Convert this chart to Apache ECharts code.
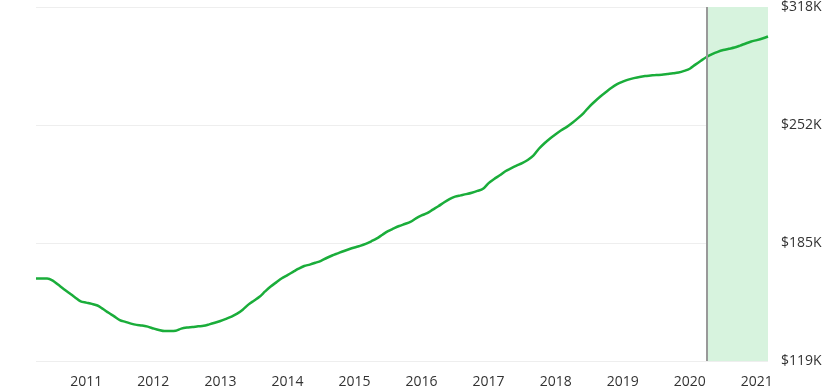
<!DOCTYPE html>
<html>
<head>
    <meta charset="utf-8">
    <title>Home value</title>
    <script src="https://cdn.jsdelivr.net/npm/echarts@6/dist/echarts.min.js"></script>
    <style>
        html, body { margin: 0; padding: 0; background: #fff; }
        #main { width: 835px; height: 392px; }
    </style>
</head>
<body>
<div id="main"></div>
<script>
    // monthly values, in thousands of dollars, Apr 2010 - Mar 2021
    var startYear = 2010, startMonth = 4;
    var values = [
        165.4, 165.4, 165.4, 164.2, 161.8, 159.4, 157.1, 154.7, 152.5,
        151.8, 151.1, 150.2, 148.2, 146.1, 144.1, 142.0, 141.0, 140.0, 139.3, 139.0, 138.3, 137.3,
        136.4, 135.8, 135.8, 136.0, 137.2, 137.8, 138.1, 138.5, 138.8, 139.6, 140.5, 141.5,
        142.7, 144.0, 145.6, 147.8, 150.7, 152.9, 155.1, 158.1, 160.9, 163.2, 165.5, 167.3,
        169.1, 170.9, 172.4, 173.2, 174.2, 175.3, 176.9, 178.3, 179.5, 180.7, 181.8, 182.8,
        183.7, 184.8, 186.3, 187.9, 190.0, 192.0, 193.5, 194.9, 196.0, 197.2, 199.2, 200.8,
        202.1, 204.1, 206.0, 208.1, 210.0, 211.4, 212.1, 212.8, 213.6, 214.6, 215.8, 219.0,
        221.3, 223.4, 225.7, 227.3, 228.8, 230.2, 232.0, 234.4, 238.3, 241.4, 244.1, 246.5,
        248.7, 250.6, 252.9, 255.5, 258.4, 261.9, 264.9, 267.7, 270.2, 272.6, 274.6, 276.0,
        277.2, 278.0, 278.7, 279.2, 279.5, 279.8, 279.9, 280.3, 280.7, 281.2, 282.1, 283.3,
        285.6, 287.8, 289.9, 291.5, 292.8, 293.8, 294.5, 295.2, 296.3, 297.5, 298.6, 299.4,
        300.3, 301.4
    ];
    var forecastStart = '2020-04';
    var yTicks = [119, 185, 252, 318];

    var months = [];
    for (var i = 0; i < values.length; i++) {
        var m = startMonth - 1 + i;
        var y = startYear + Math.floor(m / 12);
        var mm = (m % 12) + 1;
        months.push(y + '-' + (mm < 10 ? '0' + mm : mm));
    }

    var myChart = echarts.init(document.getElementById('main'));
    myChart.setOption({
        animation: false,
        grid: {left: 36, right: 67, top: 6, bottom: 31},
        xAxis: {
            type: 'category',
            data: months,
            boundaryGap: false,
            axisLine: {show: false},
            axisTick: {show: false},
            axisLabel: {
                interval: function (index, value) {
                    return value.slice(5) === '01';
                },
                formatter: function (value) {
                    return value.slice(0, 4);
                },
                margin: 14,
                fontSize: 14,
                color: '#333',
                fontFamily: 'Open Sans'
            },
            splitLine: {show: false}
        },
        yAxis: {
            type: 'value',
            position: 'right',
            min: yTicks[0],
            max: yTicks[yTicks.length - 1],
            interval: (yTicks[yTicks.length - 1] - yTicks[0]) / 3,
            axisLine: {show: false},
            axisTick: {show: false},
            axisLabel: {
                formatter: function (v) {
                    return '$' + Math.round(v) + 'K';
                },
                margin: 13,
                fontSize: 14,
                color: '#333',
                fontFamily: 'Open Sans'
            },
            splitLine: {lineStyle: {color: '#eeeeee', width: 1}}
        },
        series: [
            {
                type: 'line',
                data: values,
                showSymbol: false,
                smooth: 0.3,
                lineStyle: {color: '#1aad3a', width: 2.5},
                markArea: {
                    silent: true,
                    itemStyle: {color: '#d7f3de'},
                    data: [[{xAxis: forecastStart}, {xAxis: months[months.length - 1]}]]
                },
                markLine: {
                    silent: true,
                    symbol: 'none',
                    label: {show: false},
                    lineStyle: {color: '#999', width: 2, type: 'solid'},
                    data: [{xAxis: forecastStart}]
                }
            }
        ]
    });
</script>
</body>
</html>
